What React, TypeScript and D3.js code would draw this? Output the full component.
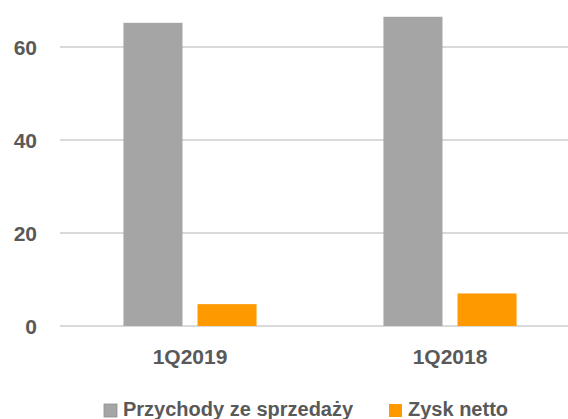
import React from "react";
import * as d3 from "d3";

const categories = ["1Q2019", "1Q2018"];
const seriesNames = ["Przychody ze sprzedaży", "Zysk netto"];
const przychody = [65.2, 66.5];
const zysk = [4.7, 7.0];
const yTicks = [0, 20, 40, 60];
const colors = ["#A5A5A5", "#FF9900"];

const W = 568;
const H = 419;
const FONT = "'Liberation Sans', Arial, sans-serif";
const TEXT = "#595959";

export default function App() {
  const values = [przychody, zysk];
  const x0 = d3
    .scaleBand<string>()
    .domain(categories)
    .range([60, 580])
    .paddingInner(0.488)
    .paddingOuter(0.244);
  const x1 = d3
    .scaleBand<string>()
    .domain(seriesNames)
    .range([0, x0.bandwidth()])
    .paddingInner(0.203);
  const y = d3.scaleLinear().domain([0, 60]).range([326, 47]);

  return (
    <svg
      width={W}
      height={H}
      style={{ position: "absolute", left: 0, top: 0, display: "block", background: "#fff" }}
      fontFamily={FONT}
      fontWeight="bold"
    >
      {yTicks.map((t) => (
        <g key={t}>
          <line x1={60} x2={W} y1={y(t)} y2={y(t)} stroke="#D9D9D9" strokeWidth={2} />
          <text x={37} y={y(t) + 7.5} textAnchor="end" fontSize={21} fill={TEXT}>
            {t}
          </text>
        </g>
      ))}
      {categories.map((c, ci) => (
        <g key={c} transform={`translate(${x0(c)},0)`}>
          {seriesNames.map((s, si) => (
            <rect
              key={s}
              x={x1(s)}
              y={y(values[si][ci])}
              width={x1.bandwidth()}
              height={y(0) - y(values[si][ci])}
              fill={colors[si]}
            />
          ))}
          <text
            x={x0.bandwidth() / 2}
            y={364}
            textAnchor="middle"
            fontSize={21}
            fill={TEXT}
          >
            {c}
          </text>
        </g>
      ))}
      {seriesNames.map((s, si) => {
        const lx = si === 0 ? 104 : 389;
        return (
          <g key={s}>
            <rect x={lx} y={404} width={13} height={13} fill={colors[si]} stroke={si === 0 ? "#8f8f8f" : "none"} strokeWidth={0.8} />
            <text x={lx + 19} y={416} fontSize={20} fill={TEXT}>
              {s}
            </text>
          </g>
        );
      })}
    </svg>
  );
}
